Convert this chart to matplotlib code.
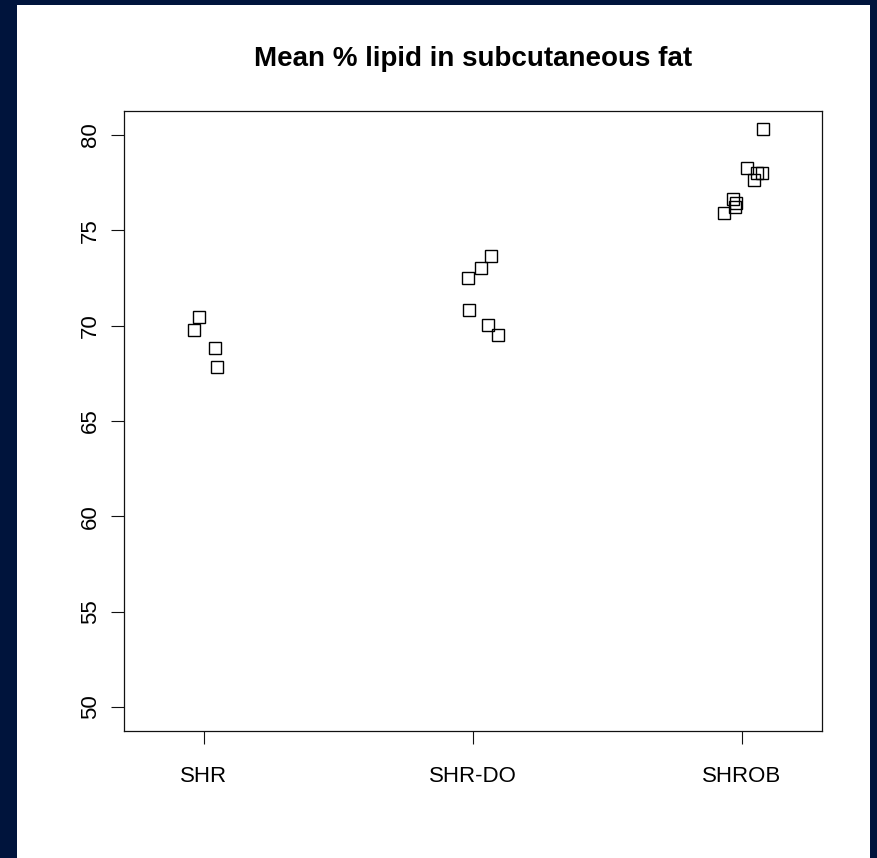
import numpy as np
import matplotlib
matplotlib.use('Agg')
import matplotlib.pyplot as plt
from matplotlib.patches import Rectangle

groups = ['SHR', 'SHR-DO', 'SHROB']
shr = [70.44, 69.79, 68.83, 67.83]
shr_jit = [-0.020, -0.036, 0.041, 0.048]
shrdo = [73.66, 73.04, 72.49, 70.82, 70.05, 69.51]
shrdo_jit = [0.067, 0.029, -0.019, -0.014, 0.057, 0.094]
shrob = [80.30, 78.27, 78.02, 78.02, 77.62, 76.63, 76.43, 76.25, 75.93]
shrob_jit = [0.079, 0.017, 0.073, 0.054, 0.045, -0.035, -0.022, -0.026, -0.067]
yticks = [50, 55, 60, 65, 70, 75, 80]

plt.rcParams['font.family'] = ['Liberation Sans', 'DejaVu Sans']

fig = plt.figure(figsize=(8.78, 8.58), dpi=100)
fig.patch.set_facecolor('#00143c')
# white panel inside the navy frame
fig.patches.append(Rectangle((17 / 878, 0), (870 - 17) / 878, (858 - 5) / 858,
                             transform=fig.transFigure, facecolor='white',
                             edgecolor='none', zorder=-10))

ax = fig.add_axes([124 / 878, 1 - 731 / 858, (822 - 124) / 878, (731 - 111) / 858])
ax.set_facecolor('white')

for i, (vals, jit) in enumerate([(shr, shr_jit), (shrdo, shrdo_jit), (shrob, shrob_jit)]):
    xs = np.array(jit) + i + 1
    ax.plot(xs, vals, 's', markersize=8, markerfacecolor='none',
            markeredgecolor='black', markeredgewidth=1.0, linestyle='none')

ax.set_xlim(0.703, 3.297)
ax.set_ylim(48.74, 81.26)
ax.set_xticks([1, 2, 3])
ax.set_xticklabels(groups, fontsize=16)
ax.set_yticks(yticks)
ax.set_yticklabels([str(t) for t in yticks], fontsize=16, rotation=90, va='center')
ax.tick_params(axis='both', direction='out', length=9.5, width=0.8, color='#111111')
ax.tick_params(axis='x', pad=16)
ax.tick_params(axis='y', pad=7)
for sp in ax.spines.values():
    sp.set_linewidth(0.9)
    sp.set_color('#111111')

fig.text(473 / 878, 1 - 59 / 858, 'Mean % lipid in subcutaneous fat', ha='center',
         va='center', fontsize=20, fontweight='bold')

fig.savefig('out.png', dpi=100, facecolor=fig.get_facecolor())
